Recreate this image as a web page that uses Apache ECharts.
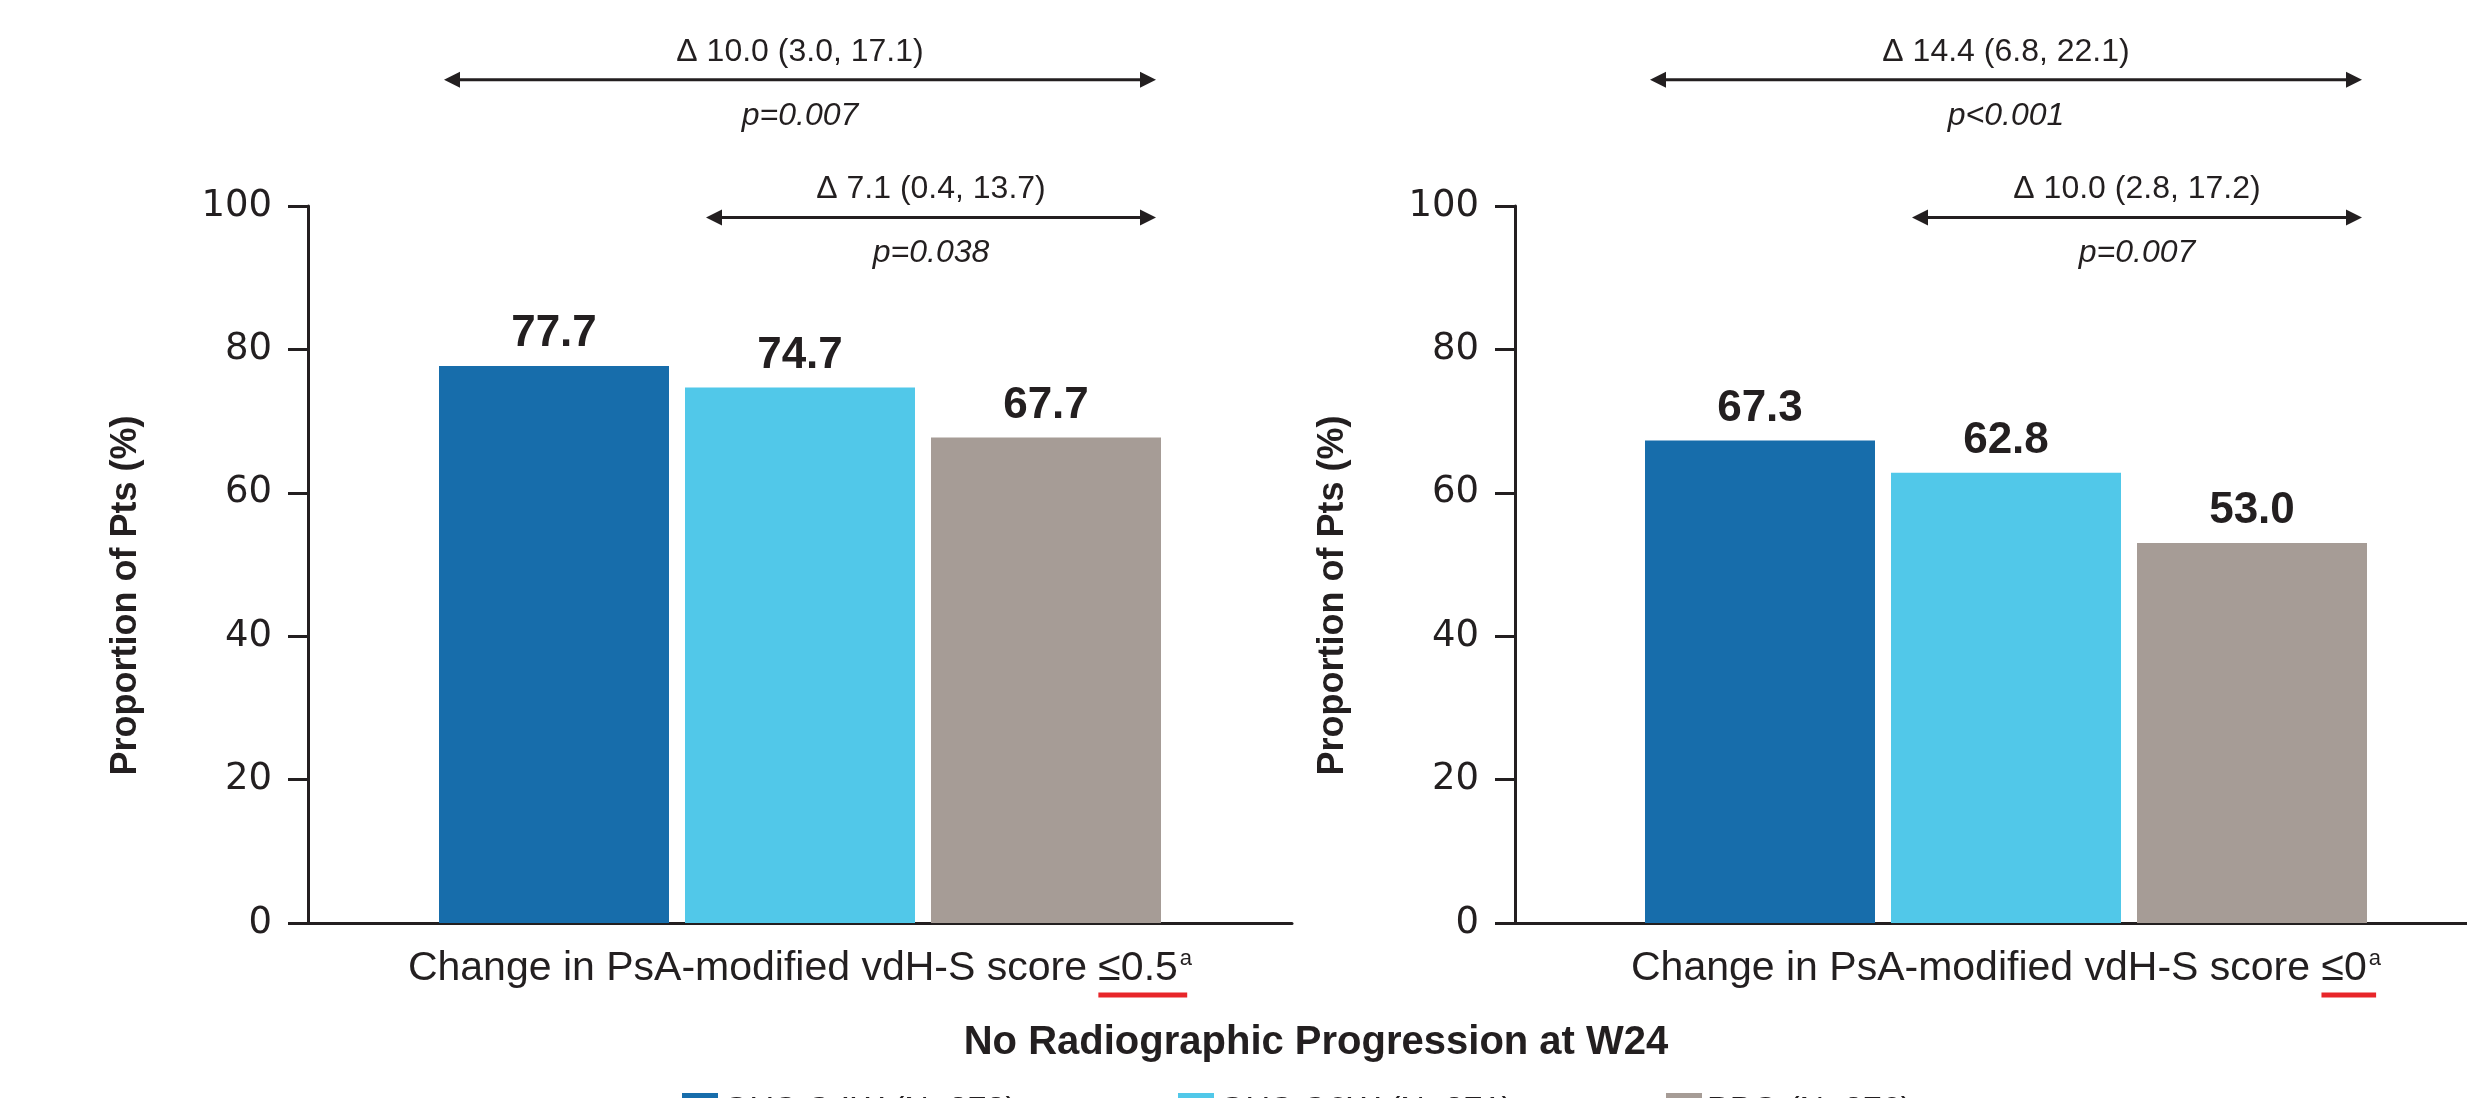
<!DOCTYPE html>
<html><head><meta charset="utf-8">
<script src="https://cdn.jsdelivr.net/npm/echarts@6/dist/echarts.min.js"></script>
<style>html,body{margin:0;padding:0;background:#fff;overflow:hidden}#c{width:2467px;height:1098px}</style>
</head><body><div id="c"></div>
<script>
// ---------- data ----------
const seriesNames = ['GUS Q4W (N=373)', 'GUS Q8W (N=371)', 'PBO (N=376)'];
const panelLabels = ['Change in PsA-modified vdH-S score ≤0.5', 'Change in PsA-modified vdH-S score ≤0'];
const underlinedParts = ['≤0.5', '≤0'];
const footnoteMark = 'a';
const gusQ4W = [77.7, 67.3];
const gusQ8W = [74.7, 62.8];
const placebo = [67.7, 53.0];
const yTicks = [0, 20, 40, 60, 80, 100];
const deltaTexts = [['Δ 10.0 (3.0, 17.1)', 'Δ 7.1 (0.4, 13.7)'], ['Δ 14.4 (6.8, 22.1)', 'Δ 10.0 (2.8, 17.2)']];
const pTexts = [['p=0.007', 'p=0.038'], ['p<0.001', 'p=0.007']];
const compareFrom = [0, 1];          // series index each bracket starts at (ends at placebo)
const bracketLevels = [117.6, 98.4]; // y level (axis units) of each bracket
const yAxisTitle = 'Proportion of Pts (%)';
const subtitle = 'No Radiographic Progression at W24';

// ---------- style ----------
const colors = ['#176dab', '#51c8e9', '#a69c96'];
const ink = '#231f20';
const narrow = "'Liberation Sans Narrow', 'Liberation Sans', Arial, sans-serif";
const wide = "'DejaVu Sans', 'Liberation Sans', sans-serif";
const BW = 230, GAP = 16;
const LABEL_FS = 41, SUP_FS = 22;
const grids = [{ left: 308, top: 206, width: 984, height: 717 }, { left: 1515, top: 206, width: 982, height: 717 }];
const values = [gusQ4W, gusQ8W, placebo];
const legendLefts = [677, 1173, 1661];

const chart = echarts.init(document.getElementById('c'), null, { renderer: 'canvas' });

const xAxes = [], yAxes = [], series = [];
grids.forEach((g, i) => {
  xAxes.push({
    type: 'category', gridIndex: i, data: [panelLabels[i]],
    axisLine: { lineStyle: { color: ink, width: 3 } },
    axisTick: { show: false },
    axisLabel: {
      interval: 0, margin: 25,
      formatter: v => '{m|' + v + '}{s|' + footnoteMark + '}',
      rich: {
        m: { fontFamily: narrow, fontSize: LABEL_FS, color: ink },
        s: { fontFamily: narrow, fontSize: SUP_FS, color: ink, verticalAlign: 'top', padding: [0, 0, 0, 2] }
      }
    }
  });
  yAxes.push({
    type: 'value', gridIndex: i, min: 0, max: 100, interval: 20,
    name: yAxisTitle, nameLocation: 'middle', nameGap: 164, nameRotate: 90,
    nameTextStyle: { fontFamily: narrow, fontWeight: 'bold', fontSize: 36, color: ink, padding: [0, 62, 0, 0] },
    axisLine: { show: true, lineStyle: { color: ink, width: 3 } },
    axisTick: { show: true, length: 20, lineStyle: { color: ink, width: 3 } },
    axisLabel: { margin: 36, fontFamily: wide, fontSize: 37, color: ink },
    splitLine: { show: false }
  });
  values.forEach((vals, k) => {
    series.push({
      type: 'bar', name: seriesNames[k], xAxisIndex: i, yAxisIndex: i,
      data: [vals[i]], barWidth: BW, barGap: (GAP / BW * 100) + '%',
      itemStyle: { color: colors[k] },
      label: { show: true, position: 'top', distance: 10, fontFamily: narrow, fontWeight: 'bold', fontSize: 44, color: ink,
               formatter: p => p.value.toFixed(1) }
    });
  });
});

const legends = seriesNames.map((n, k) => ({
  data: [n], left: legendLefts[k], top: 1088, itemWidth: 36, itemHeight: 36, itemGap: 0,
  selectedMode: false, icon: 'rect',
  textStyle: { fontFamily: "'Liberation Sans', sans-serif", fontSize: 34, color: ink }
}));

chart.setOption({
  animation: false,
  grid: grids.map(g => Object.assign({ containLabel: false, outerBoundsMode: 'none' }, g)),
  xAxis: xAxes, yAxis: yAxes, series: series, legend: legends,
  title: { text: subtitle, left: 1311, top: 1018, textAlign: 'center',
           textStyle: { fontFamily: narrow, fontWeight: 'bold', fontSize: 40, color: ink } }
});

// ---------- annotations computed from the chart's own scales ----------
const ctx = document.createElement('canvas').getContext('2d');
function tw(text, font) { ctx.font = font; return ctx.measureText(text).width; }

const gfx = [];
grids.forEach((g, i) => {
  const cx = chart.convertToPixel({ xAxisIndex: i }, panelLabels[i]);
  const groupW = 3 * BW + 2 * GAP;
  const barLeft = k => cx - groupW / 2 + k * (BW + GAP);
  const barRight = k => barLeft(k) + BW;
  compareFrom.forEach((from, j) => {
    const y = chart.convertToPixel({ yAxisIndex: i }, bracketLevels[j]);
    const x1 = barLeft(from) + (from === 0 ? 5 : 21);
    const x2 = barRight(2) - 5;
    const mid = (x1 + x2) / 2;
    gfx.push({ type: 'line', shape: { x1: x1 + 8, y1: y, x2: x2 - 8, y2: y }, style: { stroke: ink, lineWidth: 3 } });
    gfx.push({ type: 'polygon', shape: { points: [[x1, y], [x1 + 16, y - 8], [x1 + 16, y + 8]] }, style: { fill: ink } });
    gfx.push({ type: 'polygon', shape: { points: [[x2, y], [x2 - 16, y - 8], [x2 - 16, y + 8]] }, style: { fill: ink } });
    gfx.push({ type: 'text', style: { text: deltaTexts[i][j], x: mid, y: y - 28, textAlign: 'center', textVerticalAlign: 'middle',
      align: 'center', verticalAlign: 'middle', fontFamily: narrow, fontSize: 32, fill: ink } });
    gfx.push({ type: 'text', style: { text: pTexts[i][j], x: mid, y: y + 36, textAlign: 'center', textVerticalAlign: 'middle',
      align: 'center', verticalAlign: 'middle', fontFamily: narrow, fontStyle: 'italic', fontSize: 32, fill: ink } });
  });
  // red underline under the threshold part of the category label
  const fm = LABEL_FS + 'px ' + narrow, fs = SUP_FS + 'px ' + narrow;
  const full = tw(panelLabels[i], fm) + 2 + tw(footnoteMark, fs);
  const start = cx - full / 2;
  const pre = panelLabels[i].slice(0, panelLabels[i].length - underlinedParts[i].length);
  const ux1 = start + tw(pre, fm);
  const ux2 = ux1 + tw(underlinedParts[i], fm) + 2 + tw(footnoteMark, fs) * 0.6;
  const y0 = chart.convertToPixel({ yAxisIndex: i }, 0);
  gfx.push({ type: 'line', shape: { x1: ux1, y1: y0 + 72, x2: ux2, y2: y0 + 72 }, style: { stroke: '#e8262a', lineWidth: 5 } });
});
chart.setOption({ graphic: { elements: gfx } });
</script></body></html>
